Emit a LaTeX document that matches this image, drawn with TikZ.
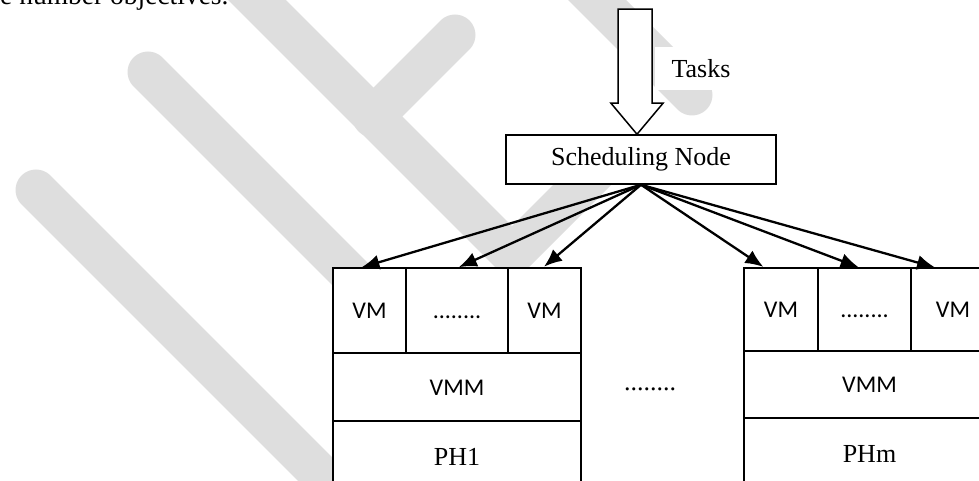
\documentclass[tikz,border=0pt]{standalone}
\usepackage{fontspec}
\setmainfont{Liberation Serif}
\newfontfamily\vmfont{Carlito}
\usepackage{tikz}
\usetikzlibrary{positioning, arrows.meta}
\definecolor{wmgray}{RGB}{222,222,222}

\begin{document}
\begin{tikzpicture}[x=1pt, y=-1pt,
        wmark/.style={wmgray, line width=41pt, line cap=round, line join=round},
        cell/.style={draw, fill=white, line width=1.5pt, inner sep=0pt, outer sep=0pt,
            text height=16pt, text depth=0pt, font=\vmfont\fontsize{24}{28}\selectfont},
        txt/.style={font=\fontsize{26}{31}\selectfont},
        feed/.style={line width=2.3pt, shorten >=2pt, -{Latex[length=18pt, width=15pt]}}]
        % Fix the page and cut what runs off it
        \useasboundingbox (0,0) rectangle (979,481);
        \clip (0,0) rectangle (979,481);

        % Draw the watermark
        \draw[wmark] (36,190) -- (340,494);
        \draw[wmark] (148,72) -- (520,444);
        \draw[wmark] (230,-27) -- (512,255) -- (600,167);
        \draw[wmark] (455,35) -- (373,117);
        \draw[wmark] (570,-27) -- (692,95);

        % Page text cut at the top
        \node[font=\fontsize{27.5}{33}\selectfont, anchor=base west, inner sep=0pt] (pagetext) at (0,5) {e number objectives.};

        % Scheduling node and the tasks coming in
        \node[draw, fill=white, line width=1.5pt, minimum width=270, minimum height=49, txt] (sched) at (641,159.5) {Scheduling Node};
        \coordinate (tip) at ([xshift=-4pt]sched.north);
        \draw[line width=1.5pt, fill=white] (tip) -- ++(-26,-31) -- ++(7,0) -- ++(0,-94) -- ++(34,0) -- ++(0,94) -- ++(11,0) -- cycle;
        \node[txt, fill=white, minimum width=92, minimum height=43] (tasks) at (701,69) {Tasks};

        % First physical host
        \node[cell, minimum width=73, minimum height=85] (vm11) at (369.5,310.5) {VM};
        \node[cell, minimum width=102, minimum height=85, right=0pt of vm11] (vm12) {........};
        \node[cell, minimum width=73, minimum height=85, right=0pt of vm12] (vm13) {VM};
        \node[cell, minimum width=248, minimum height=68, anchor=north west] (vmm1) at (vm11.south west) {VMM};
        \node[cell, txt, minimum width=248, minimum height=72, anchor=north west] (ph1) at (vmm1.south west) {PH1};

        % Hosts left out in between
        \node[txt] (gap) at (650,389) {........};

        % Last physical host
        \node[cell, minimum width=74, minimum height=83] (vm21) at (781,309.5) {VM};
        \node[cell, minimum width=93, minimum height=83, right=0pt of vm21] (vm22) {........};
        \node[cell, minimum width=84, minimum height=83, right=0pt of vm22] (vm23) {VM};
        \node[cell, minimum width=251, minimum height=67, anchor=north west] (vmm2) at (vm21.south west) {VMM};
        \node[cell, txt, minimum width=251, minimum height=72, anchor=north west] (phm) at (vmm2.south west) {PHm};

        % Scheduling node hands the tasks to the VMs
        \foreach \vm/\dx in {vm11/-10, vm12/0, vm13/-2, vm21/-16, vm22/-4, vm23/-16}
            \draw[feed] (sched.south) -- ([xshift=\dx pt]\vm.north);
\end{tikzpicture}
\end{document}
